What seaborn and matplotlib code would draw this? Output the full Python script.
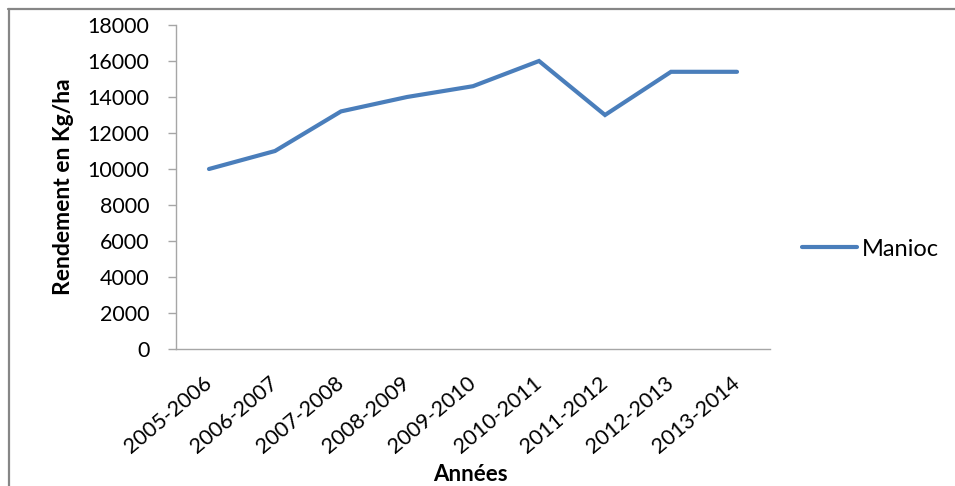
import numpy as np
import pandas as pd
import matplotlib
matplotlib.use("Agg")
import matplotlib.pyplot as plt
from matplotlib.lines import Line2D
import seaborn as sns

# données
annees = ["2005-2006", "2006-2007", "2007-2008", "2008-2009", "2009-2010",
          "2010-2011", "2011-2012", "2012-2013", "2013-2014"]
manioc = [10000, 11000, 13200, 14000, 14600, 16000, 13000, 15400, 15400]
yticks = list(range(0, 18001, 2000))

df = pd.DataFrame({"Années": annees, "Rendement": manioc, "Culture": "Manioc"})

sns.set_style("white")
plt.rcParams["font.family"] = ["Lato", "DejaVu Sans"]
plt.rcParams["text.color"] = "black"
plt.rcParams["xtick.color"] = "black"
plt.rcParams["ytick.color"] = "black"
plt.rcParams["axes.labelcolor"] = "black"

fig = plt.figure(figsize=(9.55, 4.86), dpi=100)
ax = fig.add_axes([176 / 955, 1 - 349 / 486, 594 / 955, 324 / 486])

sns.lineplot(data=df, x="Années", y="Rendement", hue="Culture", sort=False,
             palette=["#4a7ebb"], linewidth=3, ax=ax)
for ln in ax.lines:
    ln.set_solid_capstyle("round")
    ln.set_solid_joinstyle("miter")

ax.set_xlim(-0.5, len(annees) - 0.5)
ax.set_ylim(0, 18000)
ax.set_yticks(yticks)
ax.set_yticklabels([str(v) for v in yticks], fontsize=15.5)

axe_col = "#a6a6a6"
for s in ["top", "right"]:
    ax.spines[s].set_visible(False)
for s in ["left", "bottom"]:
    ax.spines[s].set_color(axe_col)
    ax.spines[s].set_linewidth(1)

ax.tick_params(axis="y", direction="out", length=6, width=1, color=axe_col,
               pad=13, left=True)
ax.tick_params(axis="x", length=0, pad=23)
for lab in ax.get_xticklabels():
    lab.set_rotation(40)
    lab.set_ha("right")
    lab.set_va("center")
    lab.set_rotation_mode("anchor")
    lab.set_fontsize(15.5)

ax.set_ylabel("Rendement en Kg/ha", fontsize=16.5, fontweight="bold")
ax.yaxis.set_label_coords(-0.172, 0.5)
ax.set_xlabel("Années", fontsize=16, fontweight="bold")
ax.xaxis.set_label_coords(0.495, -0.355)

leg = ax.legend(loc="center left", bbox_to_anchor=(802 / 955, 1 - 249 / 486),
                bbox_transform=fig.transFigure, frameon=False, fontsize=17,
                handlelength=2.35, handletextpad=0.2, borderpad=0,
                borderaxespad=0)
for h in leg.get_lines():
    h.set_linewidth(3)
    h.set_solid_capstyle("round")

# cadre de la zone de graphique (coupé à droite et en bas)
bord = "#868686"
fig.add_artist(Line2D([8 / 955, 1], [1 - 9 / 486, 1 - 9 / 486], color=bord,
                      lw=1.6, transform=fig.transFigure))
fig.add_artist(Line2D([9 / 955, 9 / 955], [0, 1 - 9 / 486], color=bord,
                      lw=1.6, transform=fig.transFigure))

fig.savefig("out.png", dpi=100)
